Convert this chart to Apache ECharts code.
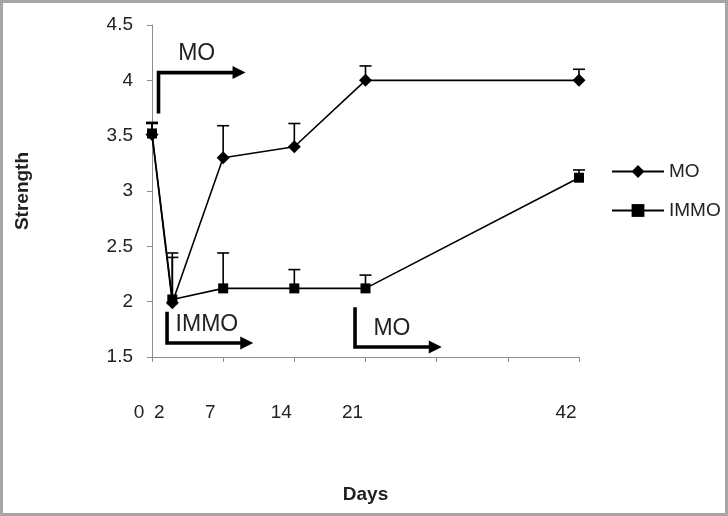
<!DOCTYPE html>
<html><head><meta charset="utf-8">
<script src="https://cdn.jsdelivr.net/npm/echarts@6/dist/echarts.min.js"></script>
<style>html,body{margin:0;padding:0;background:#fff}#c{width:728px;height:516px}</style>
</head><body><div id="c"></div>
<script>
// ---- data ----
const days = [0, 2, 7, 14, 21, 42];
const dayTickLabels = [0, 2, 7, 14, 21, 42];
const dayTicks = [0, 7, 14, 21, 28, 35, 42];
const moValues = [3.51, 1.99, 3.30, 3.40, 4.00, 4.00];
const moUpper = [3.61, 2.40, 3.59, 3.61, 4.13, 4.10];
const immoValues = [3.52, 2.02, 2.12, 2.12, 2.12, 3.12];
const immoUpper = [3.62, 2.44, 2.44, 2.29, 2.24, 3.19];
// annotations (day, strength)
const annotLabels = ['MO', 'IMMO', 'MO'];
const annotPaths = [
  [[0.64, 3.70], [0.64, 4.07], [9.2, 4.07]],
  [[1.48, 1.91], [1.48, 1.627], [9.96, 1.627]],
  [[19.97, 1.95], [19.97, 1.59], [28.5, 1.59]]
];
const annotTextAt = [[4.4, 4.24], [5.4, 1.79], [23.6, 1.76]];

const FONT = "'Liberation Sans', Arial, sans-serif";
const TXT = '#222';
const AX = '#8c8c8c';

function errRender(params, api) {
  const x = api.value(0), y = api.value(1), u = api.value(2);
  const p0 = api.coord([x, y]), p1 = api.coord([x, u]);
  return { type: 'group', children: [
    { type: 'line', shape: { x1: p0[0], y1: p0[1], x2: p1[0], y2: p1[1] }, style: { stroke: '#000', lineWidth: 1.6 } },
    { type: 'line', shape: { x1: p1[0] - 6, y1: p1[1], x2: p1[0] + 6, y2: p1[1] }, style: { stroke: '#000', lineWidth: 1.6 } }
  ]};
}

function annotRender(params, api) {
  const i = params.dataIndex;
  const pts = annotPaths[i].map(p => api.coord(p));
  const n = pts.length;
  const tip = pts[n - 1], prev = pts[n - 2];
  const dx = tip[0] - prev[0], dy = tip[1] - prev[1];
  const len = Math.sqrt(dx * dx + dy * dy);
  const ux = dx / len, uy = dy / len;
  const hl = 13, hw = 6.5;
  const base = [tip[0] - ux * hl, tip[1] - uy * hl];
  const linePts = pts.slice(0, n - 1).concat([[base[0] + ux * 1, base[1] + uy * 1]]);
  const tp = api.coord(annotTextAt[i]);
  return { type: 'group', children: [
    { type: 'polyline', shape: { points: linePts }, style: { stroke: '#000', lineWidth: 3.6, lineJoin: 'miter', fill: null } },
    { type: 'polygon', shape: { points: [tip, [base[0] - uy * hw, base[1] + ux * hw], [base[0] + uy * hw, base[1] - ux * hw]] }, style: { fill: '#000' } },
    { type: 'text', x: tp[0], y: tp[1], style: { text: annotLabels[i], fill: TXT, font: '23px ' + FONT, align: 'center', verticalAlign: 'middle' } }
  ]};
}

const chart = echarts.init(document.getElementById('c'));
chart.setOption({
  animation: false,
  backgroundColor: '#fff',
  graphic: [{ type: 'rect', shape: { x: 1.5, y: 1.5, width: 725, height: 513 }, style: { fill: null, stroke: '#a6a6a6', lineWidth: 3 }, z: 100 }],
  grid: { left: 152, right: 149, top: 25, bottom: 159 },
  legend: {
    orient: 'vertical', left: 606, top: 157, itemWidth: 52, itemHeight: 16, itemGap: 20,
    data: ['MO', 'IMMO'],
    textStyle: { fontFamily: FONT, fontSize: 19, color: TXT }
  },
  xAxis: {
    type: 'value', min: 0, max: 42, interval: 7,
    name: 'Days', nameLocation: 'middle', nameGap: 128,
    nameTextStyle: { fontFamily: FONT, fontSize: 19, fontWeight: 'bold', color: TXT },
    axisLine: { show: true, lineStyle: { color: AX, width: 1 } },
    axisTick: { show: true, length: 5, inside: false, customValues: dayTicks, lineStyle: { color: AX } },
    axisLabel: { customValues: dayTickLabels, margin: 46, fontFamily: FONT, fontSize: 19, color: TXT, padding: [0, 26, 0, 0] },
    splitLine: { show: false }
  },
  yAxis: {
    type: 'value', min: 1.5, max: 4.5, interval: 0.5,
    name: 'Strength', nameLocation: 'middle', nameGap: 120, nameRotate: 90,
    nameTextStyle: { fontFamily: FONT, fontSize: 19, fontWeight: 'bold', color: TXT },
    axisLine: { show: true, lineStyle: { color: AX, width: 1 } },
    axisTick: { show: true, length: 5, lineStyle: { color: AX } },
    axisLabel: { margin: 19, fontFamily: FONT, fontSize: 19, color: TXT },
    splitLine: { show: false }
  },
  series: [
    { type: 'custom', name: 'errMO', renderItem: errRender, encode: { x: 0, y: [1, 2] }, z: 2,
      data: days.map((d, i) => [d, moValues[i], moUpper[i]]) },
    { type: 'custom', name: 'errIMMO', renderItem: errRender, encode: { x: 0, y: [1, 2] }, z: 2,
      data: days.map((d, i) => [d, immoValues[i], immoUpper[i]]) },
    { type: 'line', name: 'IMMO', symbol: 'rect', symbolSize: 10, z: 3,
      lineStyle: { color: '#000', width: 1.6 }, itemStyle: { color: '#000' },
      data: days.map((d, i) => [d, immoValues[i]]) },
    { type: 'line', name: 'MO', symbol: 'diamond', symbolSize: 13, z: 4,
      lineStyle: { color: '#000', width: 1.6 }, itemStyle: { color: '#000' },
      data: days.map((d, i) => [d, moValues[i]]) },
    { type: 'custom', name: 'annot', renderItem: annotRender, encode: { x: 0, y: 1 }, z: 5, silent: true,
      data: annotTextAt.map((p, i) => [p[0], p[1], i]) }
  ]
});
</script></body></html>
